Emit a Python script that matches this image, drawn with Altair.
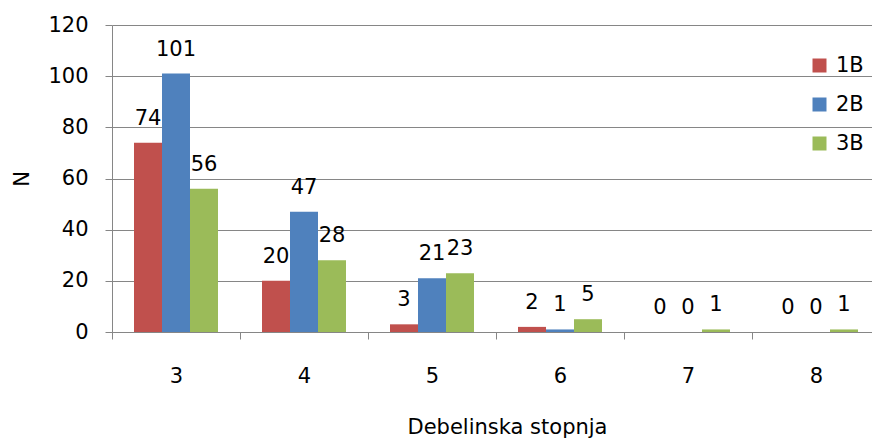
import altair as alt
import pandas as pd

categories = ["3", "4", "5", "6", "7", "8"]
series = ["1B", "2B", "3B"]
values_1b = [74, 20, 3, 2, 0, 0]
values_2b = [101, 47, 21, 1, 0, 0]
values_3b = [56, 28, 23, 5, 1, 1]
colors = ["#C0504D", "#4F81BD", "#9BBB59"]
y_ticks = [0, 20, 40, 60, 80, 100, 120]

rows = []
for s, vals in zip(series, [values_1b, values_2b, values_3b]):
    for c, v in zip(categories, vals):
        rows.append({"cat": c, "series": s, "value": v})
df = pd.DataFrame(rows)

FONT = "DejaVu Sans"
FS = 21
GRAY = "#868686"

x_enc = alt.X(
    "cat:N",
    sort=categories,
    scale=alt.Scale(domain=categories, range=[0, 768], paddingInner=0, paddingOuter=0),
    axis=alt.Axis(
        title="Debelinska stopnja",
        titleFont=FONT, titleFontSize=FS, titleFontWeight="normal", titleColor="black",
        titleX=395, titleY=101, titleBaseline="alphabetic", titleAlign="center",
        labelFont=FONT, labelFontSize=FS, labelColor="black", labelAngle=0,
        labelBaseline="alphabetic", labelPadding=43,
        tickBand="extent", tickSize=7, tickColor=GRAY, tickWidth=1,
        domainColor=GRAY, domainWidth=1, grid=False,
    ),
)
xoff_enc = alt.XOffset(
    "series:N",
    scale=alt.Scale(domain=series, paddingOuter=0.786, paddingInner=0),
)
y_enc = alt.Y(
    "value:Q",
    scale=alt.Scale(domain=[0, 120], nice=False, zero=True),
    axis=alt.Axis(
        title="N", values=y_ticks,
        titleFont=FONT, titleFontSize=FS, titleFontWeight="normal", titleColor="black",
        titleX=-90, titleY=153.5, titleBaseline="middle", titleAlign="center", titleAngle=270,
        labelFont=FONT, labelFontSize=FS, labelColor="black", labelPadding=17,
        tickSize=7, tickColor=GRAY, tickWidth=1,
        domainColor=GRAY, domainWidth=1,
        grid=True, gridColor=GRAY, gridWidth=1,
    ),
)
color_enc = alt.Color(
    "series:N",
    scale=alt.Scale(domain=series, range=colors),
    legend=alt.Legend(
        title=None, orient="none", legendX=697, legendY=30,
        symbolType="square", symbolSize=196, symbolStrokeWidth=0,
        labelFont=FONT, labelFontSize=FS, labelColor="black",
        labelOffset=6, rowPadding=17, padding=0,
    ),
)

bars = alt.Chart(df).mark_bar().encode(
    x=x_enc, xOffset=xoff_enc, y=y_enc, color=color_enc
)
labels = alt.Chart(df).mark_text(
    baseline="alphabetic", dy=-18, font=FONT, fontSize=FS, color="black"
).encode(
    x=alt.X("cat:N", sort=categories), xOffset=alt.XOffset("series:N"),
    y="value:Q", text="value:Q"
)

chart = alt.layer(bars, labels).properties(
    width=760, height=307,
    autosize=alt.AutoSizeParams(type="none"),
    padding={"left": 112, "top": 25, "right": 0, "bottom": 107},
    background="white",
).configure_view(stroke=None)

chart.save("out.html", embed_options={"renderer": "svg", "actions": False})
